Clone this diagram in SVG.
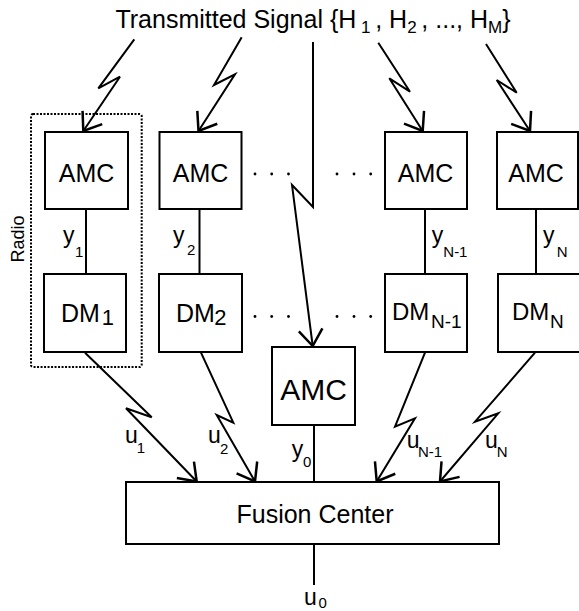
<svg xmlns="http://www.w3.org/2000/svg" width="579" height="611" viewBox="0 0 579 611">
  <style>
    .box { fill: #fff; stroke: #000; stroke-width: 2; }
    .wire { fill: none; stroke: #000; stroke-width: 2; stroke-linejoin: miter; }
    .link { fill: none; stroke: #000; stroke-width: 2; }
    .radio { fill: none; stroke: #000; stroke-width: 2; stroke-dasharray: 2 1.5; }
    text { font-family: "Liberation Sans", Arial, Helvetica, sans-serif; fill: #000; }
    .big { font-size: 25px; }
    .lab { font-size: 23px; }
    .sub { font-size: 15px; }
    .dot { fill: #000; }
  </style>
  <defs>
    <marker id="vhead" markerUnits="userSpaceOnUse" markerWidth="30" markerHeight="30" viewBox="-16 -12 20 24" refX="0" refY="0" orient="auto">
      <path d="M -13 -9.5 L 0 0 L -13 9.5" fill="none" stroke="#000" stroke-width="2"/>
    </marker>
  </defs>

  <!-- title -->
  <text class="big" x="313" y="28" text-anchor="middle">Transmitted Signal {H<tspan font-size="17" dy="5"> 1 </tspan><tspan dy="-5">, H</tspan><tspan font-size="17" dy="5">2 </tspan><tspan dy="-5">, ..., H</tspan><tspan font-size="17" dy="5">M</tspan><tspan dy="-5">}</tspan></text>

  <!-- radio enclosure -->
  <g id="radio">
    <rect class="radio" x="31" y="114" width="110.7" height="253" rx="2"/>
    <text transform="translate(24.3,239) rotate(-90)" x="0" y="0" text-anchor="middle" font-size="18">Radio</text>
  </g>

  <!-- connectors -->
  <g id="connectors">
    <line class="link" x1="86" y1="209" x2="86" y2="274"/>
    <line class="link" x1="199.5" y1="209" x2="199.5" y2="274"/>
    <line class="link" x1="425" y1="209" x2="425" y2="274"/>
    <line class="link" x1="536" y1="209" x2="536" y2="274"/>
    <line class="link" x1="314" y1="425" x2="314" y2="482"/>
    <line class="link" x1="314" y1="544" x2="314" y2="585"/>

    <path class="wire" marker-end="url(#vhead)" d="M134.3,39.3 L98.3,88.3 L120,76.7 L83.3,131"/>
    <path class="wire" marker-end="url(#vhead)" d="M241.7,37.3 L214,85 L235,74.3 L198.5,131"/>
    <path class="wire" marker-end="url(#vhead)" d="M313,42 L313,207 L292,185 L312.7,346"/>
    <path class="wire" marker-end="url(#vhead)" d="M378.3,42.7 L410,91.7 L389.3,78.3 L422.7,131"/>
    <path class="wire" marker-end="url(#vhead)" d="M486,44 L516.7,92.7 L496.7,80 L530,131"/>

    <path class="wire" marker-end="url(#vhead)" d="M85,352.7 L151.7,417.3 L126,408.3 L196.7,481.5"/>
    <path class="wire" marker-end="url(#vhead)" d="M201,352.7 L233.3,422.7 L216.7,415 L255,481.5"/>
    <path class="wire" marker-end="url(#vhead)" d="M425,352.7 L395,426.7 L415,418.3 L376.7,481.5"/>
    <path class="wire" marker-end="url(#vhead)" d="M535,352.7 L475,421.7 L498.3,413.3 L440,481.5"/>

    <!-- ellipsis dots -->
    <circle class="dot" cx="255" cy="174" r="1.4"/>
    <circle class="dot" cx="271.7" cy="174" r="1.4"/>
    <circle class="dot" cx="288.5" cy="174" r="1.4"/>
    <circle class="dot" cx="337" cy="174" r="1.4"/>
    <circle class="dot" cx="354" cy="174" r="1.4"/>
    <circle class="dot" cx="370.7" cy="174" r="1.4"/>
    <circle class="dot" cx="255" cy="316.5" r="1.4"/>
    <circle class="dot" cx="271.7" cy="316.5" r="1.4"/>
    <circle class="dot" cx="288.5" cy="316.5" r="1.4"/>
    <circle class="dot" cx="337" cy="316.5" r="1.4"/>
    <circle class="dot" cx="354" cy="316.5" r="1.4"/>
    <circle class="dot" cx="370.7" cy="316.5" r="1.4"/>

    <!-- connector labels -->
    <text class="lab" x="63" y="243">y</text><text class="sub" x="75" y="256.7">1</text>
    <text class="lab" x="173" y="243">y</text><text class="sub" x="187" y="255">2</text>
    <text class="lab" x="431.7" y="243">y</text><text class="sub" x="443.3" y="256.7">N-1</text>
    <text class="lab" x="543" y="243">y</text><text class="sub" x="556.7" y="256.7">N</text>
    <text class="lab" x="125" y="443.3">u</text><text class="sub" x="136.7" y="453">1</text>
    <text class="lab" x="208" y="443">u</text><text class="sub" x="220" y="454">2</text>
    <text class="lab" x="406.7" y="448">u</text><text class="sub" x="418" y="456.7">N-1</text>
    <text class="lab" x="485" y="448">u</text><text class="sub" x="496.7" y="456.7">N</text>
    <text class="lab" x="291.7" y="457">y</text><text class="sub" x="303" y="466.7">0</text>
    <text class="lab" x="304" y="605">u</text><text class="sub" x="318.5" y="608.3">0</text>
  </g>

  <!-- AMC units -->
  <g id="amc1">
    <rect class="box" x="45" y="132" width="83" height="77"/>
    <text class="big" x="86.5" y="181.7" text-anchor="middle">AMC</text>
  </g>
  <g id="amc2">
    <rect class="box" x="159.5" y="132" width="82" height="77"/>
    <text class="big" x="200.5" y="181.7" text-anchor="middle">AMC</text>
  </g>
  <g id="amcN1">
    <rect class="box" x="385" y="132" width="82" height="77"/>
    <text class="big" x="425.5" y="181.7" text-anchor="middle">AMC</text>
  </g>
  <g id="amcN">
    <rect class="box" x="497" y="132" width="81" height="77"/>
    <text class="big" x="536" y="181.7" text-anchor="middle">AMC</text>
  </g>

  <!-- DM units -->
  <g id="dm1">
    <rect class="box" x="44" y="274" width="82" height="78"/>
    <text class="big" x="61" y="321.7">DM</text><text x="101.7" y="325" font-size="22">1</text>
  </g>
  <g id="dm2">
    <rect class="box" x="159" y="274" width="83" height="78"/>
    <text class="big" x="176" y="321.7">DM</text><text x="214.3" y="325" font-size="22">2</text>
  </g>
  <g id="dmN1">
    <rect class="box" x="385" y="274" width="82" height="78"/>
    <text x="392" y="320" font-size="24">DM</text><text x="431" y="328.3" font-size="19">N-1</text>
  </g>
  <g id="dmN">
    <rect class="box" x="498" y="274" width="90" height="78"/>
    <text x="512" y="320" font-size="24">DM</text><text x="550" y="328.3" font-size="19">N</text>
  </g>

  <!-- central AMC -->
  <g id="amc0">
    <rect class="box" x="272" y="347" width="83" height="78"/>
    <text x="313.5" y="400" text-anchor="middle" font-size="30">AMC</text>
  </g>

  <!-- fusion center -->
  <g id="fusion">
    <rect class="box" x="126" y="482" width="373" height="62"/>
    <text class="big" x="315" y="523" text-anchor="middle">Fusion Center</text>
  </g>
</svg>
